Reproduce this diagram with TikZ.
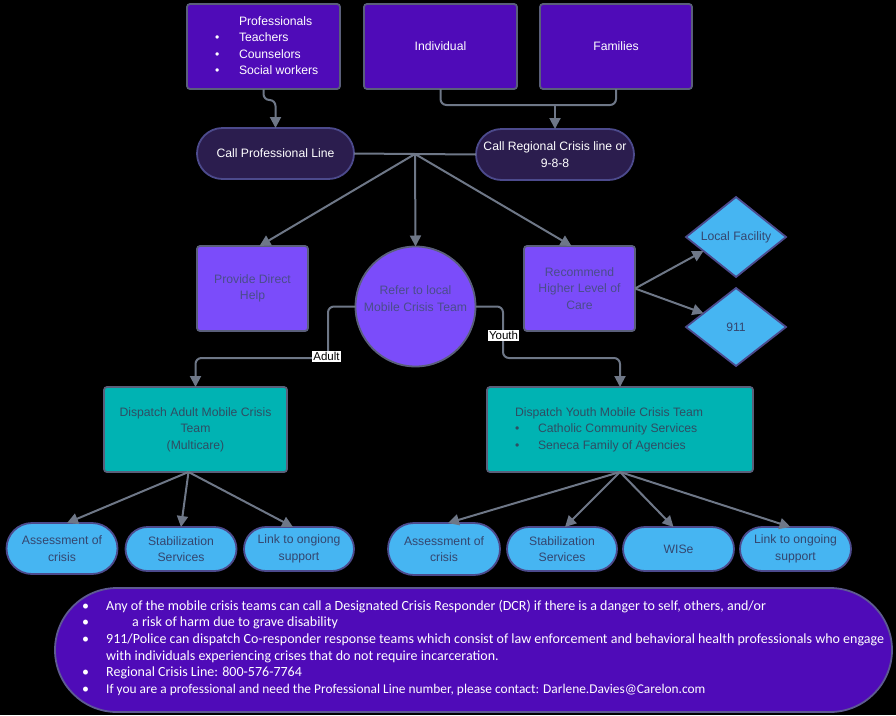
\documentclass[tikz,border=0pt]{standalone}
\usepackage{fontspec}
\setmainfont{Liberation Sans}
\newfontfamily\notefont{Carlito}
\usetikzlibrary{shapes.geometric,shapes.misc,arrows.meta,calc}
\definecolor{toppurple}{HTML}{4F0BB8}
\definecolor{darkpill}{HTML}{2B1D4E}
\definecolor{pillborder}{HTML}{4C4A8C}
\definecolor{medpurple}{HTML}{7B4CFA}
\definecolor{tealbox}{HTML}{00B3B3}
\definecolor{lightblue}{HTML}{46B5F2}
\definecolor{linegray}{HTML}{6E7787}
\definecolor{boxborder}{HTML}{5A5F7A}
\definecolor{noteborder}{HTML}{5E5A92}
\definecolor{purpletext}{HTML}{4A4C8A}
\definecolor{tealtext}{HTML}{2F4D63}
\definecolor{bluetext}{HTML}{34466F}
\begin{document}
\begin{tikzpicture}[x=1pt,y=-1pt,
  base/.style={inner sep=0pt, outer sep=0pt, line width=1.8pt, align=center,
    font=\fontsize{12.2}{16.5}\selectfont},
  topbox/.style={base, rectangle, rounded corners=3pt, fill=toppurple, draw=boxborder, text=white},
  darkpill/.style={base, rounded rectangle, fill=darkpill, draw=pillborder, text=white, minimum height=51pt},
  midbox/.style={base, rectangle, rounded corners=3pt, fill=medpurple, draw=boxborder, text=purpletext, minimum width=111pt, minimum height=85pt},
  tealrect/.style={base, rectangle, rounded corners=3pt, fill=tealbox, draw=boxborder, text=tealtext, minimum height=85pt},
  bluepill/.style={base, rounded rectangle, fill=lightblue, draw=pillborder, text=bluetext, minimum height=44pt},
  dia/.style={base, diamond, aspect=1.25, fill=lightblue, draw=pillborder, text=bluetext, minimum width=100pt, minimum height=80pt},
  lab/.style={inner sep=1pt, fill=white, text=black, font=\fontsize{11.5}{13}\selectfont},
  conn/.style={draw=linegray, line width=2pt},
  arr/.style={conn, -{Triangle[length=11pt,width=11pt]}}
]
\fill[black] (0,0) rectangle (896,715);
\useasboundingbox (0,0) rectangle (896,715);

% top row
\node[topbox, minimum width=153pt, minimum height=85pt] (prof) at (263.5,46.5) {};
\node[base, anchor=west, align=left, text=white] (proftext) at (215,46.5)
  {\begin{tabular}{@{}p{24pt}@{}l@{}} & Professionals\\ \textbullet & Teachers\\ \textbullet & Counselors\\ \textbullet & Social workers\end{tabular}};
\node[topbox, minimum width=153pt, minimum height=85pt] (ind) at (440.5,46.5) {Individual};
\node[topbox, minimum width=152pt, minimum height=85pt] (fam) at (616,46.5) {Families};

% call lines
\node[darkpill, minimum width=157pt] (cpl) at (275.5,153.5) {Call Professional Line};
\node[darkpill, minimum width=158pt] (crl) at (555,154.5) {Call Regional Crisis line or\\9-8-8};

\draw[arr, rounded corners=6pt] (prof.south) -- ++(0,11) -| (cpl.north);
\coordinate (merge) at (555,105);
\draw[conn, rounded corners=6pt] (ind.south) |- (merge) -| (fam.south);
\draw[arr] (merge) -- (crl.north);

% middle row
\node[midbox] (pdh) at (252.5,288.5) {Provide Direct\\Help};
\node[base, circle, fill=medpurple, draw=boxborder, minimum size=120pt] (mct) at (415.5,306.5) {};
\node[base, text=purpletext] (mcttext) at (415.5,298.5) {Refer to local\\Mobile Crisis Team};
\node[midbox] (rec) at (579.5,288.5) {Recommend\\Higher Level of\\Care};
\node[dia] (lf) at (736,237) {Local Facility};
\node[dia, minimum height=78pt] (e911) at (736,327) {911};

\draw[conn] (cpl.east) -- (crl.west);
\coordinate (hub) at (415,154);
\draw[arr] (hub) -- ([xshift=7pt]pdh.north);
\draw[arr] (hub) -- (mct.north);
\draw[arr] (hub) -- ([xshift=-8pt]rec.north);
\draw[arr] (rec.east) -- ($(lf.west)!0.35!(lf.south)$);
\draw[arr] (rec.east) -- ($(e911.west)!0.35!(e911.north)$);

% dispatch boxes
\node[tealrect, minimum width=183pt] (dam) at (195.5,429.5) {Dispatch Adult Mobile Crisis\\Team\\(Multicare)};
\node[tealrect, minimum width=266pt] (dym) at (620,429.5) {};
\node[base, anchor=west, align=left, text=tealtext] (dymtext) at (515,429.5)
  {\begin{tabular}{@{}p{23pt}@{}l@{}}\multicolumn{2}{@{}l@{}}{Dispatch Youth Mobile Crisis Team}\\ \textbullet & Catholic Community Services\\ \textbullet & Seneca Family of Agencies\end{tabular}};

\draw[arr, rounded corners=6pt] (mct.west) -- (328,306.5) -- (328,358) -| (dam.north);
\node[lab] (adultlab) at (326.5,356.5) {Adult};
\draw[arr, rounded corners=6pt] (mct.east) -- (503,306.5) -- (503,358) -| (dym.north);
\node[lab] (youthlab) at (503.5,335.5) {Youth};

% bottom pills
\node[bluepill, minimum width=111pt, minimum height=51pt] (a1) at (62,548.5) {Assessment of\\crisis};
\node[bluepill, minimum width=111pt] (a2) at (181,549) {Stabilization\\Services};
\node[bluepill, minimum width=110pt] (a3) at (299,549) {Link to ongiong\\support};
\node[bluepill, minimum width=112pt, minimum height=52pt] (y1) at (444,549) {Assessment of\\crisis};
\node[bluepill, minimum width=110pt] (y2) at (562,549) {Stabilization\\Services};
\node[bluepill, minimum width=111pt] (y3) at (678.5,549) {WISe};
\node[bluepill, minimum width=111pt] (y4) at (795.5,549) {Link to ongoing\\support};

\draw[arr] ([xshift=-7pt]dam.south) -- ([xshift=5pt]a1.north);
\draw[arr] ([xshift=-7pt]dam.south) -- (a2.north);
\draw[arr] ([xshift=-7pt]dam.south) -- ([xshift=-6pt]a3.north);
\draw[arr] (dym.south) -- ([xshift=4pt]y1.north);
\draw[arr] (dym.south) -- ([xshift=3pt]y2.north);
\draw[arr] (dym.south) -- ([xshift=-5pt]y3.north);
\draw[arr] (dym.south) -- ([xshift=-5pt]y4.north);

% notes
\node[base, rounded rectangle, fill=toppurple, draw=noteborder, minimum width=837pt, minimum height=124pt] (notes) at (473.5,650) {};
\node[anchor=west, inner sep=0pt, text=white, align=left, font=\notefont\fontsize{14}{16.6}\selectfont] (notetext) at (82,648.5)
  {\begin{tabular}{@{}p{24pt}@{}l@{}}
  \textbullet & Any of the mobile crisis teams can call a Designated Crisis Responder (DCR) if there is a danger to self, others, and/or\\
  \textbullet & \hspace{26pt}a risk of harm due to grave disability\\
  \textbullet & 911/Police can dispatch Co-responder response teams which consist of law enforcement and behavioral health professionals who engage\\
   & with individuals experiencing crises that do not require incarceration.\\
  \textbullet & Regional Crisis Line: 800-576-7764\\
  \textbullet & {\fontsize{13.4}{16.6}\selectfont If you are a professional and need the Professional Line number, please contact: Darlene.Davies@Carelon.com}
  \end{tabular}};
\end{tikzpicture}
\end{document}
